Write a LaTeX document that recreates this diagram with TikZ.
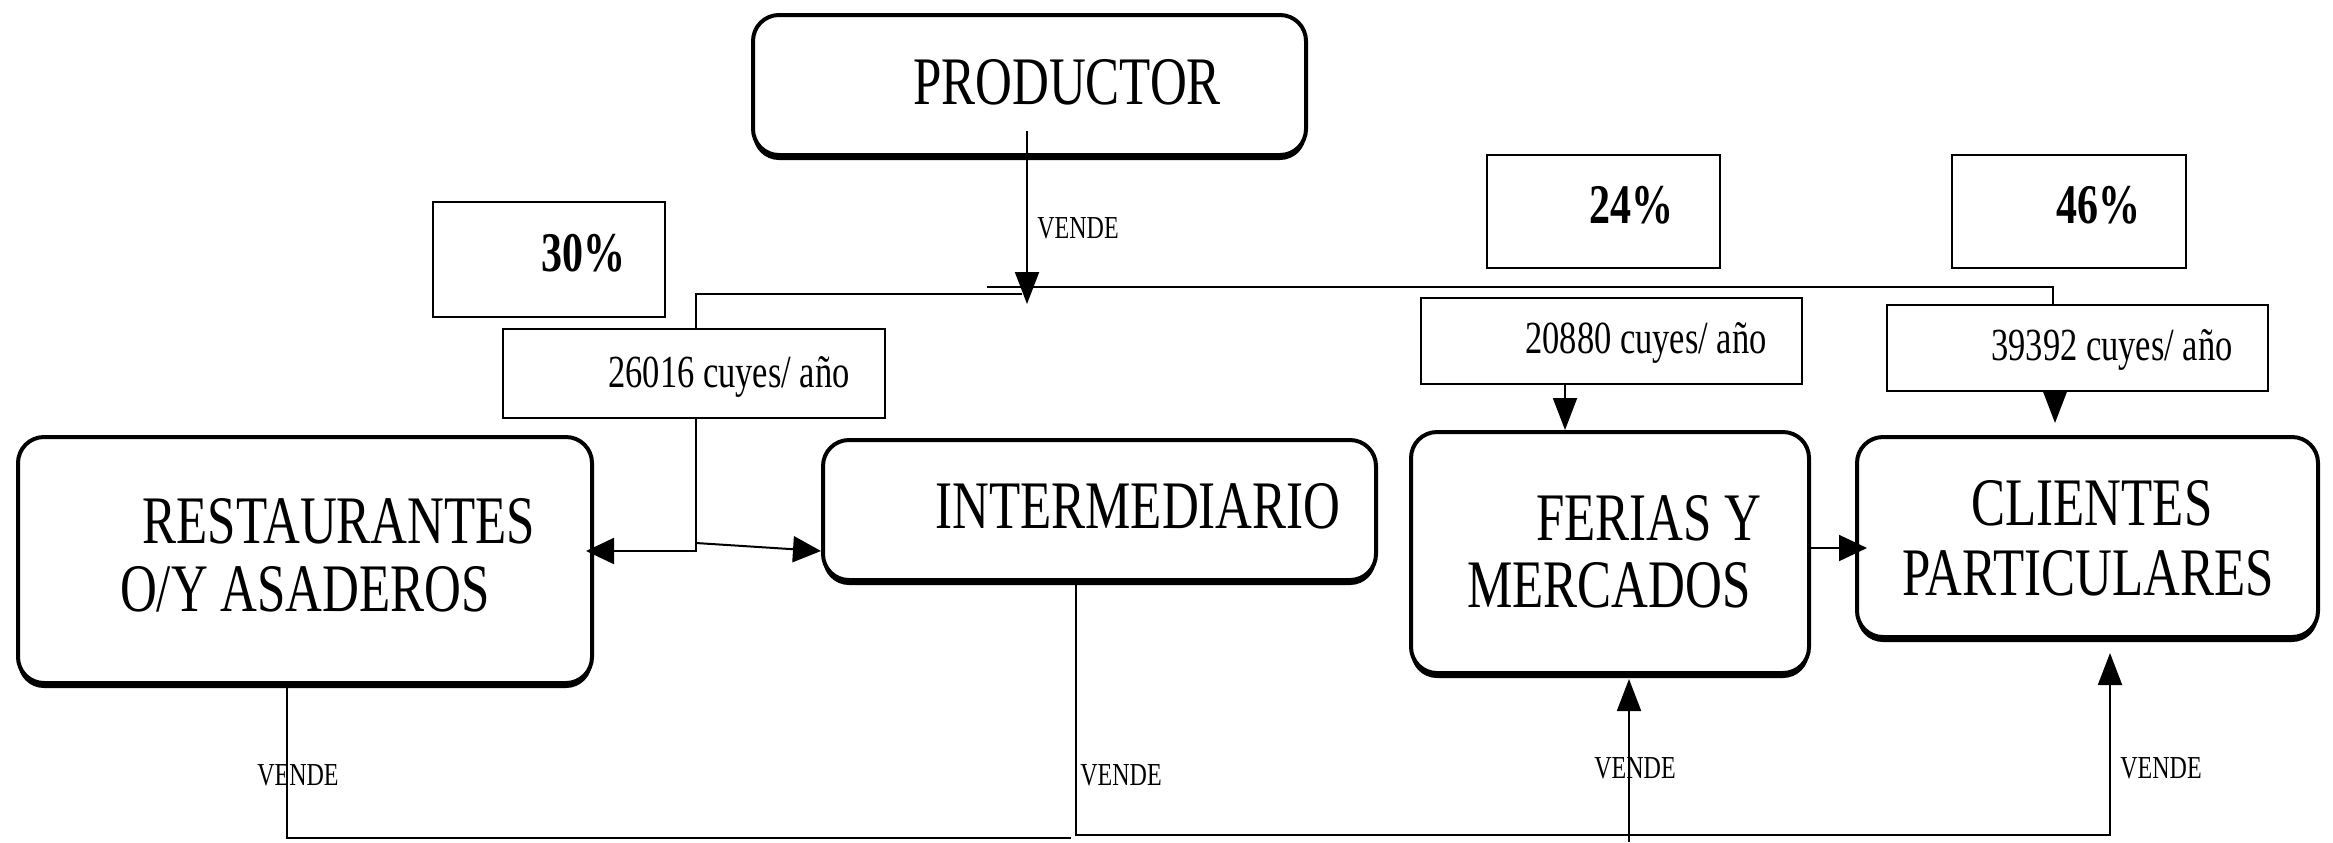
\documentclass[tikz,border=0pt]{standalone}
\usepackage{fontspec}
\setmainfont{Liberation Serif}[FakeStretch=0.75]
\usetikzlibrary{arrows.meta,shadows}
\begin{document}
\begin{tikzpicture}[x=0.5pt,y=-0.5pt,
  rbox/.style={draw, line width=2pt, rounded corners=13pt, fill=white,
    drop shadow={shadow xshift=0pt, shadow yshift=-2.5pt, fill=black, opacity=1}, inner sep=0pt},
  pbox/.style={draw, line width=1.2pt, fill=white, inner sep=0pt},
  conn/.style={line width=1pt},
  arr/.style={conn, -{Triangle[length=14pt,width=13pt]}},
  arrv/.style={conn, -{Triangle[length=16pt,width=12pt]}},
  big/.style={font=\fontsize{34}{34}\selectfont, inner sep=0pt, anchor=base},
  num/.style={font=\fontsize{23}{23}\selectfont, inner sep=0pt, anchor=base},
  pct/.style={font=\bfseries\fontsize{28}{28}\selectfont, inner sep=0pt, anchor=base},
  vend/.style={font=\fontsize{16}{16}\selectfont, inner sep=0pt, anchor=base}]
\useasboundingbox (0,0) rectangle (2333,842);

% boxes
\node[rbox, minimum width=276.5pt, minimum height=70pt] (prod) at (1029.5,85) {};
\node[pbox, minimum width=116pt, minimum height=57.5pt] (p30) at (549,259.5) {};
\node[pbox, minimum width=116.5pt, minimum height=56.5pt] (p24) at (1603.5,211.5) {};
\node[pbox, minimum width=117pt, minimum height=56.5pt] (p46) at (2069,211.5) {};
\node[pbox, minimum width=191pt, minimum height=44.5pt] (c26) at (694,373.5) {};
\node[pbox, minimum width=190.5pt, minimum height=43pt] (c20) at (1611.5,341) {};
\node[pbox, minimum width=190.5pt, minimum height=43pt] (c39) at (2077.5,348) {};
\node[rbox, minimum width=287pt, minimum height=123pt] (rest) at (305,560) {};
\node[rbox, minimum width=276.5pt, minimum height=70pt] (inter) at (1099.5,510) {};
\node[rbox, minimum width=199pt, minimum height=120.5pt] (ferias) at (1610,552.5) {};
\node[rbox, minimum width=230.5pt, minimum height=100pt] (cli) at (2087.5,537) {};

% texts
\node[big] (tprod) at (1067,104) {PRODUCTOR};
\node[big] (trest1) at (339,543) {RESTAURANTES};
\node[big] (trest2) at (305,611) {O/Y ASADEROS};
\node[big] (tinter) at (1138,528) {INTERMEDIARIO};
\node[big] (tfer1) at (1649,540) {FERIAS Y};
\node[big] (tfer2) at (1609,607) {MERCADOS};
\node[big] (tcli1) at (2092,525) {CLIENTES};
\node[big] (tcli2) at (2088,595) {PARTICULARES};
\node[pct] (t30) at (583,271) {30\%};
\node[pct] (t24) at (1631,223) {24\%};
\node[pct] (t46) at (2098,223) {46\%};
\node[num] (t26) at (729,387) {26016 cuyes/ año};
\node[num] (t20) at (1646,353) {20880 cuyes/ año};
\node[num] (t39) at (2112,360) {39392 cuyes/ año};

% junction coordinates
\coordinate (ps) at (1027,131);
\coordinate (pe) at (1027,304);
\coordinate (hl) at (987,287);
\coordinate (hr) at (2053,287);
\coordinate (bl) at (1022,294);
\coordinate (xl) at (696,551);
\coordinate (xr) at (696,543);
\coordinate (rb) at (287,838);
\coordinate (re) at (1071,838);
\coordinate (ib) at (1076,835);
\coordinate (ie) at (2110,835);
\coordinate (fb) at (1629,842);

% connectors
\draw[arrv] (ps) -- (pe);
\node[vend] (v0) at (1078,238) {VENDE};
\draw[conn] (hl) -- (hr) -- (c39.north -| hr);
\draw[conn] (bl) -| (c26.north -| xl);
\draw[arr, shorten >=-4pt] (c26.south -| xl) -- (xl) -- (rest.east |- xl);
\draw[arr] (xr) -- (inter.west |- xl);
\draw[arrv] (c20.south -| 1565,0) -- (ferias.north -| 1565,0);
\draw[arrv, shorten >=6pt] (c39.south -| 2055,0) -- (cli.north -| 2055,0);
\draw[arr, shorten >=-6pt] (ferias.east |- 0,548) -- (cli.west |- 0,548);
\draw[conn] (rest.south -| rb) -- (rb) -- (re);
\draw[arrv, shorten >=7pt] (inter.south -| ib) -- (ib) -- (ie) -- (cli.south -| ie);
\draw[arrv, shorten >=2pt] (fb) -- (ferias.south -| fb);
\node[vend] (v1) at (298,785) {VENDE};
\node[vend] (v2) at (1121,785) {VENDE};
\node[vend] (v3) at (1635,778) {VENDE};
\node[vend] (v4) at (2161,778) {VENDE};
\end{tikzpicture}
\end{document}
